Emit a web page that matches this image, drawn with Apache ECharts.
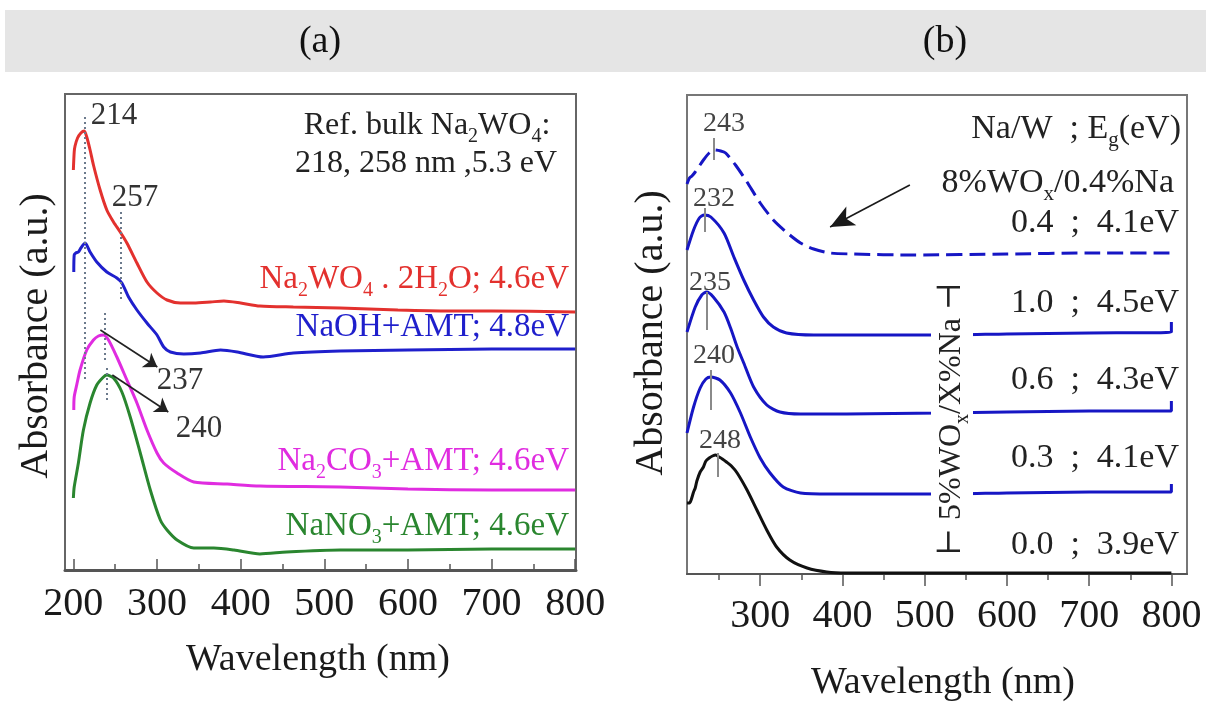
<!DOCTYPE html>
<html>
<head>
<meta charset="utf-8">
<script src="https://cdn.jsdelivr.net/npm/echarts@6/dist/echarts.min.js"></script>
<style>
  html, body { margin: 0; padding: 0; background: #fff; }
  #chart { width: 1206px; height: 702px; }
</style>
</head>
<body>
<div id="chart"></div>
<script>
// ---------- Panel (a): Na precursors + AMT, [wavelength (nm), absorbance (a.u., offset)] ----------
const naTungstate = [
  [200, 4.00], [201, 4.18], [202, 4.24], [205, 4.32], [209, 4.37], [213, 4.39], [216, 4.33],
  [220, 4.20], [224, 4.05], [232, 3.80], [240, 3.60], [248, 3.48], [256, 3.38], [264, 3.27],
  [276, 3.07], [288, 2.88], [300, 2.77], [312, 2.70], [328, 2.67], [344, 2.67], [364, 2.68],
  [380, 2.69], [400, 2.67], [423, 2.64], [463, 2.63], [519, 2.62], [588, 2.60], [650, 2.59],
  [700, 2.59], [800, 2.58]
];
const naohAmt = [
  [200.5, 2.98], [201, 3.15], [203, 3.17], [206, 3.18], [209, 3.22], [214, 3.27], [220, 3.18],
  [228, 3.08], [240, 2.98], [252, 2.92], [258, 2.87], [266, 2.73], [276, 2.60], [288, 2.47],
  [300, 2.35], [308, 2.23], [316, 2.18], [332, 2.16], [352, 2.17], [376, 2.20], [396, 2.18],
  [427, 2.13], [463, 2.17], [519, 2.19], [600, 2.20], [700, 2.21], [800, 2.21]
];
const na2co3Amt = [
  [200.5, 1.60], [201, 1.73], [204, 1.85], [208, 2.00], [216, 2.20], [224, 2.30], [230, 2.34],
  [236, 2.35], [242, 2.30], [252, 2.13], [264, 1.90], [276, 1.67], [288, 1.40], [300, 1.17],
  [308, 1.07], [324, 0.97], [344, 0.88], [384, 0.86], [423, 0.84], [519, 0.83], [600, 0.81],
  [700, 0.80], [800, 0.80]
];
const nano3Amt = [
  [200, 0.72], [201, 0.83], [206, 1.07], [212, 1.40], [220, 1.67], [228, 1.85], [236, 1.93],
  [240, 1.95], [248, 1.92], [258, 1.78], [268, 1.53], [280, 1.17], [292, 0.80], [304, 0.50],
  [312, 0.40], [324, 0.30], [344, 0.22], [368, 0.22], [392, 0.20], [423, 0.16], [455, 0.18],
  [519, 0.20], [600, 0.20], [700, 0.21], [800, 0.21]
];
// Peak positions (nm) with the vertical extent of their dotted guide lines
const peaksA = [
  { nm: 214, from: 4.53, to: 1.90 },
  { nm: 257, from: 3.58, to: 2.70 },
  { nm: 237, from: 2.57, to: 2.10 },
  { nm: 240, from: 2.02, to: 1.70 }
];
const ticksA = [200, 300, 400, 500, 600, 700, 800];
const minorTicksA = [250, 350, 450, 550, 650, 750];

// ---------- Panel (b): 5%WOx/X%Na series and 8%WOx/0.4%Na ----------
const wox8Na04 = [
  [211, 3.90], [214, 3.96], [217, 3.98], [221, 4.02], [231, 4.14], [238, 4.21], [244, 4.24],
  [252, 4.23], [258, 4.21], [270, 4.09], [284, 3.92], [300, 3.71], [316, 3.54], [333, 3.41],
  [349, 3.31], [365, 3.25], [385, 3.21], [413, 3.20], [486, 3.19], [600, 3.20], [700, 3.21],
  [800, 3.21]
];
const naW10 = [
  [211, 3.24], [219, 3.44], [226, 3.56], [232, 3.59], [240, 3.57], [256, 3.41], [268, 3.17],
  [280, 2.94], [292, 2.74], [304, 2.57], [316, 2.47], [332, 2.41], [365, 2.39], [450, 2.39],
  [519, 2.39], [600, 2.40], [700, 2.41], [800, 2.42], [800, 2.52]
];
const naW06 = [
  [211, 2.42], [221, 2.67], [229, 2.79], [235, 2.82], [243, 2.77], [256, 2.62], [264, 2.46],
  [272, 2.27], [280, 2.11], [292, 1.87], [308, 1.69], [324, 1.62], [349, 1.60], [405, 1.60],
  [519, 1.61], [600, 1.62], [700, 1.63], [800, 1.63], [800, 1.73]
];
const naW03 = [
  [211, 1.41], [219, 1.67], [227, 1.86], [234, 1.95], [240, 1.97], [251, 1.94], [264, 1.81],
  [276, 1.61], [288, 1.37], [300, 1.16], [312, 1.01], [328, 0.87], [349, 0.81], [385, 0.80],
  [519, 0.80], [600, 0.81], [700, 0.82], [800, 0.82], [800, 0.90]
];
const naW00 = [
  [211, 0.71], [214, 0.71], [216, 0.74], [219, 0.82], [221, 0.86], [223, 0.93], [227, 1.02],
  [231, 1.07], [234, 1.13], [238, 1.16], [242, 1.18], [246, 1.19], [250, 1.17], [254, 1.15],
  [259, 1.12], [265, 1.08], [272, 1.01], [284, 0.84], [296, 0.64], [308, 0.44], [320, 0.27],
  [336, 0.14], [357, 0.06], [381, 0.02], [405, 0.01], [519, 0.01], [800, 0.01]
];
const peaksB = [
  { nm: 243, from: 4.36, to: 4.14 },
  { nm: 232, from: 3.66, to: 3.42 },
  { nm: 235, from: 2.82, to: 2.44 },
  { nm: 240, from: 2.04, to: 1.64 },
  { nm: 248, from: 1.21, to: 0.97 }
];
const ticksB = [300, 400, 500, 600, 700, 800];
const minorTicksB = [250, 350, 450, 550, 650, 750];

// ---------- styling ----------
const SERIF = '"Liberation Serif", "DejaVu Serif", serif';
const RED = '#e3312e', BLUE = '#1f1fcc', MAGENTA = '#e02ce0', GREEN = '#2a862f';
const DBLUE = '#1616c4', BLACK = '#111111';

function text(x, y, str, size, color, align, extra) {
  const sub = Math.round(size * 0.62);
  return Object.assign({
    type: 'text', x: x, y: y, z: 50,
    style: {
      text: str, fontFamily: SERIF, fontSize: size, lineHeight: Math.round(size * 1.3),
      fill: color, align: align || 'center', verticalAlign: 'middle',
      textAlign: align || 'center', textVerticalAlign: 'middle',
      rich: {
        s: { fontFamily: SERIF, fontSize: sub, lineHeight: sub, verticalAlign: 'bottom', fill: color }
      }
    }
  }, extra || {});
}

function curve(name, data, color, xi, yi, extra) {
  return Object.assign({
    name: name, type: 'line', data: data, xAxisIndex: xi, yAxisIndex: yi,
    showSymbol: false, symbol: 'none', smooth: 0.25,
    lineStyle: { color: color, width: 3 }, itemStyle: { color: color }, z: 3
  }, extra || {});
}

function vSegments(peaks) {
  return peaks.map(p => [{ coord: [p.nm, p.from] }, { coord: [p.nm, p.to] }]);
}

const chart = echarts.init(document.getElementById('chart'), null, { renderer: 'canvas' });

const option = {
  animation: false,
  backgroundColor: '#ffffff',
  grid: [
    { left: 65, top: 94, width: 511, height: 476, show: true, borderColor: '#666', borderWidth: 2, backgroundColor: 'transparent' },
    { left: 687, top: 95, width: 500, height: 479, show: true, borderColor: '#777', borderWidth: 2, backgroundColor: 'transparent' }
  ],
  xAxis: [
    {
      gridIndex: 0, type: 'value', min: 190, max: 801, position: 'bottom',
      axisLine: { show: true, lineStyle: { color: '#555', width: 3 } },
      axisTick: { show: true, inside: true, length: 11, customValues: ticksA, lineStyle: { color: '#555', width: 1.5 } },
      axisLabel: { show: true, customValues: ticksA, fontFamily: SERIF, fontSize: 40, color: '#1a1a1a', margin: 14 },
      splitLine: { show: false }
    },
    {
      gridIndex: 0, type: 'value', min: 190, max: 801, position: 'bottom', offset: 0,
      axisLine: { show: false },
      axisTick: { show: true, inside: true, length: 6, customValues: minorTicksA, lineStyle: { color: '#555', width: 1.5 } },
      axisLabel: { show: false }, splitLine: { show: false }
    },
    {
      gridIndex: 1, type: 'value', min: 211, max: 819, position: 'bottom',
      axisLine: { show: true, lineStyle: { color: '#555', width: 2 } },
      axisTick: { show: true, inside: false, length: 12, customValues: ticksB, lineStyle: { color: '#555', width: 1.5 } },
      axisLabel: { show: true, customValues: ticksB, fontFamily: SERIF, fontSize: 40, color: '#1a1a1a', margin: 22 },
      splitLine: { show: false }
    },
    {
      gridIndex: 1, type: 'value', min: 211, max: 819, position: 'bottom', offset: 0,
      axisLine: { show: false },
      axisTick: { show: true, inside: false, length: 6, customValues: minorTicksB, lineStyle: { color: '#555', width: 1.5 } },
      axisLabel: { show: false }, splitLine: { show: false }
    }
  ],
  yAxis: [
    { gridIndex: 0, type: 'value', min: 0, max: 4.76, show: false },
    { gridIndex: 1, type: 'value', min: 0, max: 4.79, show: false }
  ],
  series: [
    curve('Na2WO4·2H2O', naTungstate, RED, 0, 0, {
      markLine: {
        silent: true, symbol: 'none', label: { show: false },
        lineStyle: { color: '#6c7a8c', width: 2, type: [2, 3] },
        data: vSegments(peaksA)
      }
    }),
    curve('NaOH+AMT', naohAmt, BLUE, 0, 0, {
      markLine: {
        silent: true, symbol: ['none', 'arrow'], symbolSize: 13, label: { show: false },
        lineStyle: { color: '#222', width: 1.6, type: 'solid' },
        data: [
          [{ coord: [232.3, 2.40] }, { coord: [300.4, 2.03] }],
          [{ coord: [246.6, 1.95] }, { coord: [313.5, 1.58] }]
        ]
      }
    }),
    curve('Na2CO3+AMT', na2co3Amt, MAGENTA, 0, 0),
    curve('NaNO3+AMT', nano3Amt, GREEN, 0, 0),

    curve('8%WOx/0.4%Na', wox8Na04, DBLUE, 2, 1, {
      lineStyle: { color: DBLUE, width: 3, type: [16, 7] },
      markLine: {
        silent: true, symbol: ['none', 'arrow'], symbolSize: [16, 24], label: { show: false },
        lineStyle: { color: '#1a1a1a', width: 1.6, type: 'solid' },
        data: [[{ coord: [482, 3.89] }, { coord: [385, 3.47] }]]
      }
    }),
    curve('Na/W 1.0', naW10, DBLUE, 2, 1, {
      markLine: {
        silent: true, symbol: 'none', label: { show: false },
        lineStyle: { color: '#8a8a8a', width: 2, type: 'solid' },
        data: vSegments(peaksB)
      }
    }),
    curve('Na/W 0.6', naW06, DBLUE, 2, 1),
    curve('Na/W 0.3', naW03, DBLUE, 2, 1),
    curve('Na/W 0.0', naW00, BLACK, 2, 1)
  ],
  graphic: [
    { type: 'rect', z: 0, shape: { x: 5, y: 10, width: 1201, height: 62 }, style: { fill: '#e5e5e5' } },
    text(320, 42, '(a)', 38, '#111'),
    text(945, 42, '(b)', 38, '#111'),

    // panel (a) axis titles
    text(36, 336, 'Absorbance (a.u.)', 40, '#1a1a1a', 'center', { rotation: Math.PI / 2 }),
    text(318, 660, 'Wavelength (nm)', 38, '#1a1a1a'),
    // panel (a) annotations
    text(427, 126, 'Ref. bulk Na{s|2}WO{s|4}:', 32, '#222'),
    text(426, 164, '218, 258 nm ,5.3 eV', 32, '#222'),
    text(114, 116, '214', 31, '#333'),
    text(135, 198, '257', 31, '#333'),
    text(180, 381, '237', 31, '#333'),
    text(199, 429, '240', 31, '#333'),
    text(569, 279, 'Na{s|2}WO{s|4} . 2H{s|2}O; 4.6eV', 33, RED, 'right'),
    text(569, 327, 'NaOH+AMT; 4.8eV', 33, BLUE, 'right'),
    text(569, 461, 'Na{s|2}CO{s|3}+AMT; 4.6eV', 33, MAGENTA, 'right'),
    text(569, 526, 'NaNO{s|3}+AMT; 4.6eV', 33, GREEN, 'right'),

    // panel (b) axis titles
    text(651, 333, 'Absorbance (a.u.)', 40, '#1a1a1a', 'center', { rotation: Math.PI / 2 }),
    text(943, 683, 'Wavelength (nm)', 38, '#1a1a1a'),
    // panel (b) annotations
    text(724, 124, '243', 28, '#444'),
    text(714, 199, '232', 28, '#444'),
    text(710, 283, '235', 28, '#444'),
    text(714, 356, '240', 28, '#444'),
    text(720, 441, '248', 28, '#444'),
    text(1181, 129, 'Na/W  ; E{s|g}(eV)', 34, '#222', 'right'),
    text(1174, 183, '8%WO{s|x}/0.4%Na', 34, '#222', 'right'),
    text(1179, 223, '0.4  ;  4.1eV', 34, '#222', 'right'),
    text(1179, 303, '1.0  ;  4.5eV', 34, '#222', 'right'),
    text(1179, 380, '0.6  ;  4.3eV', 34, '#222', 'right'),
    text(1179, 458, '0.3  ;  4.1eV', 34, '#222', 'right'),
    text(1179, 545, '0.0  ;  3.9eV', 34, '#222', 'right'),
    (function () {
      // vertical series caption, with a white backing that breaks the flat lines it crosses
      const t = text(952, 419, '\u22A2 5%WO{s|x}/X%Na \u22A3', 32, '#222', 'center', { rotation: Math.PI / 2, z: 100 });
      t.style.backgroundColor = '#ffffff';
      t.style.padding = [0, 3];
      return t;
    })()
  ]
};

chart.setOption(option);
</script>
</body>
</html>
